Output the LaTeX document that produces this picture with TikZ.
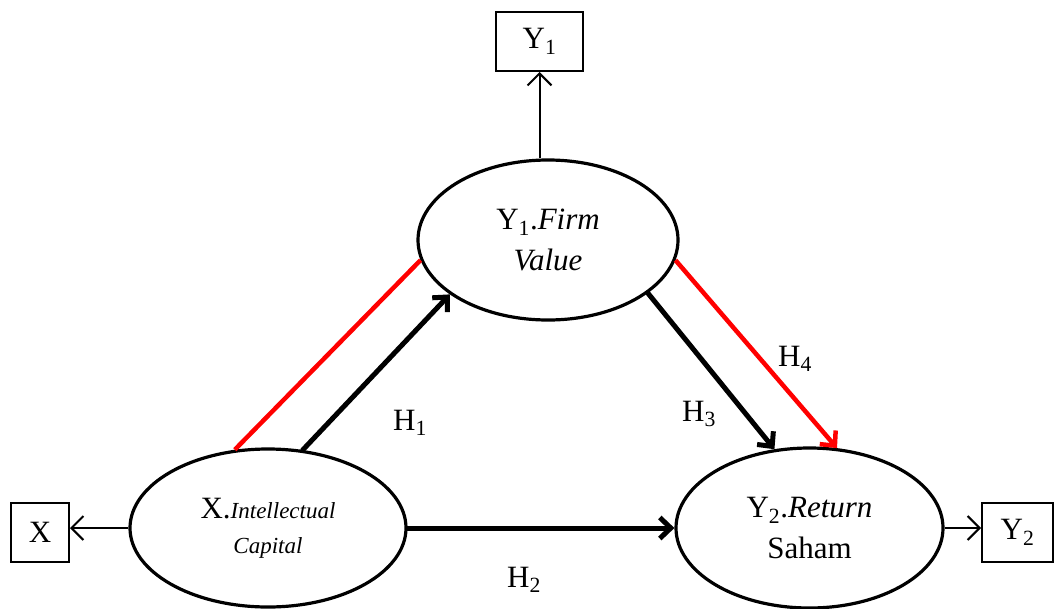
\documentclass[tikz,border=0pt]{standalone}
\usepackage{fontspec}
\setmainfont{Liberation Serif}
\usetikzlibrary{arrows.meta,shapes.geometric}
\begin{document}
\begin{tikzpicture}[x=1pt,y=-1pt,
  oval/.style={ellipse,draw,line width=3.2pt,inner sep=0pt,align=center,font=\fontsize{31}{41}\selectfont},
  obox/.style={draw,line width=2pt,inner sep=0pt,font=\fontsize{31}{40}\selectfont},
  thinarr/.style={line width=2pt,-{Straight Barb[length=12pt,width=24pt,line width=2pt]}},
  thickarr/.style={line width=5pt,line cap=round,-{Straight Barb[length=11pt,width=21pt,line width=5pt]}},
  redline/.style={red,line width=4.5pt},
  hlab/.style={font=\fontsize{31}{40}\selectfont,inner sep=0pt,anchor=base west}
]
\useasboundingbox (0,0) rectangle (1057,608);
% ovals
\node[oval,minimum width=260pt,minimum height=160pt] (Y1) at (548,240)
  {Y\textsubscript{1}.\textit{Firm}\\ \textit{Value}};
\node[oval,minimum width=276pt,minimum height=158pt] (X) at (268,528)
  {X.{\fontsize{23}{30}\selectfont\itshape Intellectual}\\[-6pt] {\fontsize{23}{30}\selectfont\itshape Capital}};
\node[oval,minimum width=267pt,minimum height=160pt] (Y2) at (809.5,528)
  {Y\textsubscript{2}.\textit{Return}\\ Saham};
% boxes
\node[obox,minimum width=87pt,minimum height=59pt] (B1) at (539.5,41.5) {Y\textsubscript{1}};
\node[obox,minimum width=58pt,minimum height=59pt] (BX) at (40,532.5) {X};
\node[obox,minimum width=71pt,minimum height=59pt] (B2) at (1017.5,532.5) {Y\textsubscript{2}};
% indicator arrows
\draw[thinarr] (B1.south |- Y1.north) -- (B1.south);
\draw[thinarr] (X.west) -- (X.west -| BX.east);
\draw[thinarr] (Y2.east) -- (Y2.east -| B2.west);
% hypotheses
\draw[redline] (X.113.6) -- (Y1.189);
\draw[thickarr] (X.66.4) -- (Y1.209);
\draw[thickarr] (X.east) -- (Y2.west);
\draw[thickarr] (Y1.332) -- (Y2.114.3);
\draw[redline,-{Straight Barb[length=11pt,width=21pt,line width=4.5pt]}] (Y1.351) -- (Y2.71.2);
% labels
\node[hlab] (h1) at (393,430) {H\textsubscript{1}};
\node[hlab] (h2) at (507,587) {H\textsubscript{2}};
\node[hlab] (h3) at (682,421) {H\textsubscript{3}};
\node[hlab] (h4) at (778,366) {H\textsubscript{4}};
\end{tikzpicture}
\end{document}
